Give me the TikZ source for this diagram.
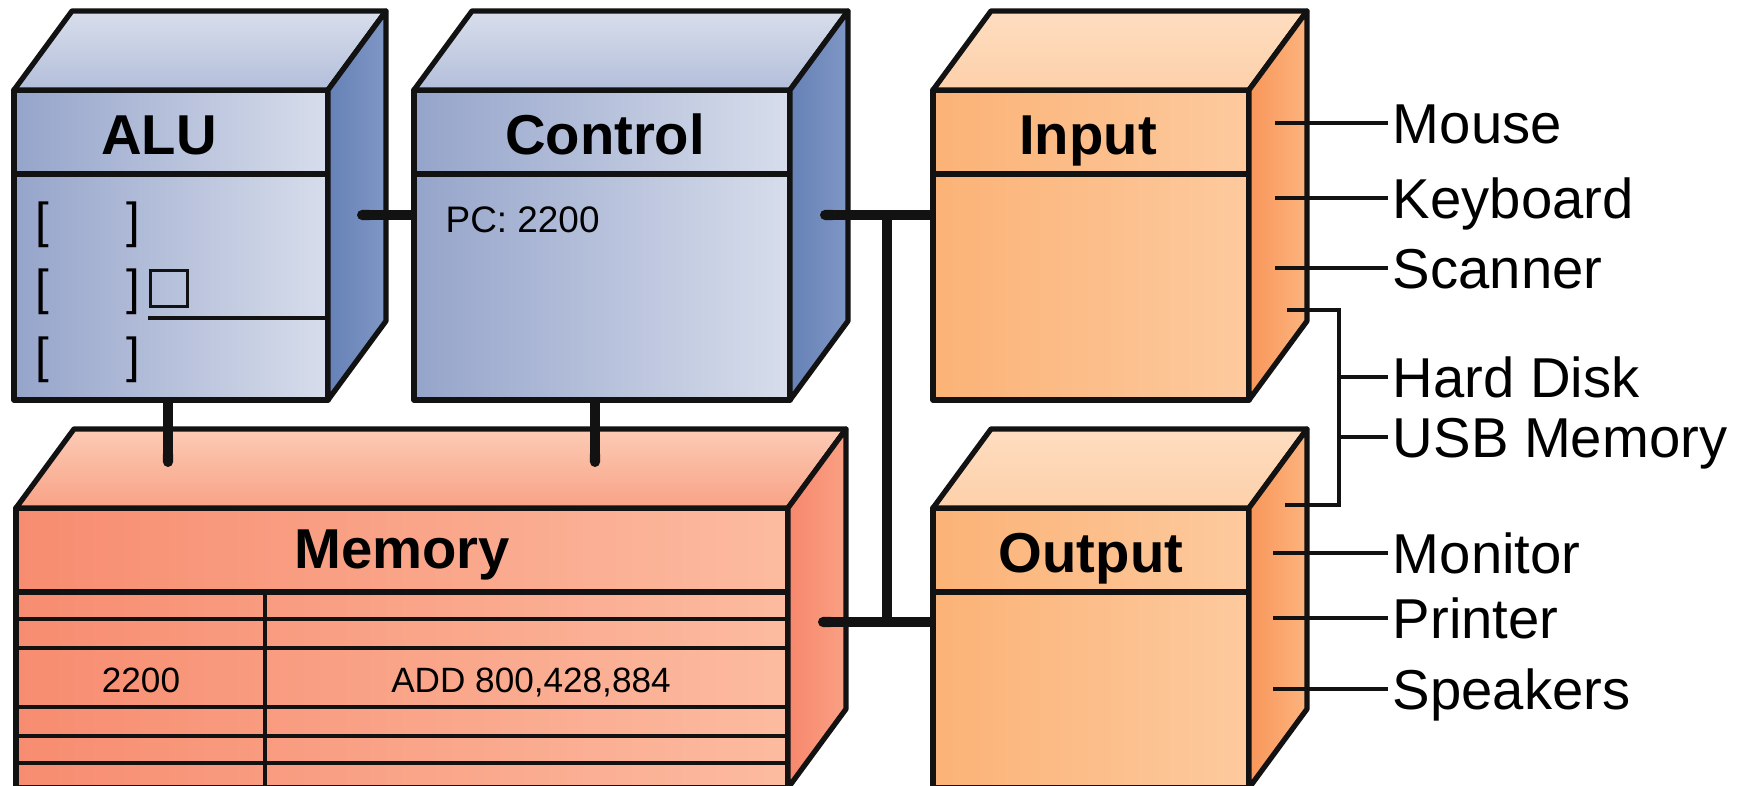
\documentclass[tikz,border=0pt]{standalone}
\usepackage{fontspec}
\setmainfont{Liberation Sans}
\usepackage{tikz}
\usetikzlibrary{calc}
\usetikzlibrary{arrows.meta}

\definecolor{blueFrontL}{HTML}{95A4CA}
\definecolor{blueFrontR}{HTML}{D7DDEB}
\definecolor{blueSideL}{HTML}{6681B6}
\definecolor{blueSideR}{HTML}{7F97C5}
\definecolor{blueTopT}{HTML}{D8DEEB}
\definecolor{blueTopB}{HTML}{B3BEDA}
\definecolor{orangeFrontL}{HTML}{FBB276}
\definecolor{orangeFrontR}{HTML}{FDCA9E}
\definecolor{orangeSideL}{HTML}{F8965A}
\definecolor{orangeSideR}{HTML}{FCB47E}
\definecolor{orangeTopT}{HTML}{FEDDC0}
\definecolor{orangeTopB}{HTML}{FDD0AA}
\definecolor{salmonFrontL}{HTML}{F78C70}
\definecolor{salmonFrontR}{HTML}{FCBBA0}
\definecolor{salmonSideL}{HTML}{F7876C}
\definecolor{salmonSideR}{HTML}{F9A084}
\definecolor{salmonTopT}{HTML}{FCCBB5}
\definecolor{salmonTopB}{HTML}{F8A286}

\tikzset{
  face/.style={draw=black!93, line width=1.5pt, line join=round},
  unit/.style={face, anchor=north west, inner sep=0pt, outer sep=0pt},
  title/.style={font=\bfseries\fontsize{16}{18}\selectfont, inner sep=0pt, text height=11.5pt, text depth=0pt},
  small/.style={font=\fontsize{10}{12}\selectfont, inner sep=0pt, text height=7.2pt, text depth=0pt},
  bracket/.style={anchor=base, inner sep=0pt, font=\fontsize{14}{16}\selectfont},
  bus/.style={draw=black!93, line width=2.9pt},
  wire/.style={draw=black!93, line width=0.9pt},
  device/.style={anchor=west, inner sep=0pt, outer xsep=1.4pt, font=\fontsize{16}{18}\selectfont, text height=11.5pt, text depth=0pt},
}

\begin{document}
\begin{tikzpicture}
  \useasboundingbox (0,0) rectangle (17.46,7.86);
  \clip (0,0) rectangle (17.46,7.86);

  % front faces
  \node[unit, left color=blueFrontL, right color=blueFrontR, minimum width=3.14cm, minimum height=3.10cm] (alu) at (0.14,6.96) {};
  \node[unit, left color=blueFrontL, right color=blueFrontR, minimum width=3.76cm, minimum height=3.10cm] (ctl) at (4.14,6.96) {};
  \node[unit, left color=orangeFrontL, right color=orangeFrontR, minimum width=3.16cm, minimum height=3.10cm] (inp) at (9.33,6.96) {};
  \node[unit, left color=salmonFrontL, right color=salmonFrontR, minimum width=7.72cm, minimum height=2.80cm] (mem) at (0.16,2.78) {};
  \node[unit, left color=orangeFrontL, right color=orangeFrontR, minimum width=3.16cm, minimum height=2.80cm] (outp) at (9.33,2.78) {};

  % top and side faces, header lines
  \foreach \n/\pal in {alu/blue, ctl/blue, inp/orange, mem/salmon, outp/orange} {
    \draw[face, top color=\pal TopT, bottom color=\pal TopB] (\n.north west) -- ++(0.58,0.79)
      -- ($(\n.north east)+(0.58,0.79)$) -- (\n.north east) -- cycle;
    \draw[face, left color=\pal SideL, right color=\pal SideR] (\n.north east) -- ++(0.58,0.79)
      -- ($(\n.south east)+(0.58,0.79)$) -- (\n.south east) -- cycle;
    \draw[face] ([yshift=-0.84cm]\n.north west) -- ([yshift=-0.84cm]\n.north east);
  }

  \node[title] (alu-t) at ([xshift=-0.12cm,yshift=-0.44cm]alu.north) {ALU};
  \node[title] (ctl-t) at ([xshift=0.03cm,yshift=-0.44cm]ctl.north) {Control};
  \node[title] (inp-t) at ([xshift=-0.03cm,yshift=-0.44cm]inp.north) {Input};
  \node[title] (mem-t) at ([yshift=-0.40cm]mem.north) {Memory};
  \node[title] (outp-t) at ([yshift=-0.44cm]outp.north) {Output};

  % ALU registers
  \node[bracket] (reg1) at (0.88,5.48) {[\hspace{22pt}]};
  \node[bracket] (reg2) at (0.88,4.81) {[\hspace{22pt}]};
  \node[bracket] (reg3) at (0.88,4.13) {[\hspace{22pt}]};
  \node[draw=black!93, line width=1pt, inner sep=0pt, minimum width=0.37cm, minimum height=0.36cm] (flag) at (1.69,4.975) {};
  \draw[face, line width=1.3pt] (1.48,4.68) -- (alu.east |- 0,4.68);

  \node[small, anchor=west, font=\fontsize{10.5}{12}\selectfont] (pc) at (4.45,5.66) {PC: 2200};

  % memory cells
  \foreach \y in {1.67,1.38,0.79,0.50,0.23}
    \draw[face, line width=1.3pt] (mem.west |- 0,\y) -- (mem.east |- 0,\y);
  \draw[face, line width=1.3pt] (2.65,1.96) -- (2.65,-0.1);
  \node[small] (addr) at (1.41,1.06) {2200};
  \node[small] (instr) at (5.31,1.06) {ADD 800,428,884};

  % bus
  \coordinate (alu-side) at (3.57,5.71);
  \coordinate (ctl-side) at (8.20,5.71);
  \coordinate (mem-side) at (8.18,1.64);
  \coordinate (spine) at (8.87,0);
  \coordinate (alu-mem) at (1.68,3.19);
  \coordinate (ctl-mem) at (5.95,3.19);
  \draw[bus, {Round Cap[]}-] (alu-side) -- (ctl.west |- alu-side);
  \draw[bus, {Round Cap[]}-] (ctl-side) -- (inp.west |- ctl-side);
  \draw[bus, {Round Cap[]}-] (mem-side) -- (outp.west |- mem-side);
  \draw[bus] (ctl-side -| spine) -- (mem-side -| spine);
  \draw[bus, -{Round Cap[]}] (alu-mem |- alu.south) -- (alu-mem);
  \draw[bus, -{Round Cap[]}] (ctl-mem |- ctl.south) -- (ctl-mem);

  % devices
  \node[device] (mouse) at (13.88,6.63) {Mouse};
  \node[device] (keyboard) at (13.88,5.88) {Keyboard};
  \node[device] (scanner) at (13.88,5.18) {Scanner};
  \node[device] (disk) at (13.88,4.09) {Hard Disk};
  \node[device] (usb) at (13.88,3.49) {USB Memory};
  \node[device] (monitor) at (13.88,2.33) {Monitor};
  \node[device] (printer) at (13.88,1.68) {Printer};
  \node[device] (speakers) at (13.88,0.97) {Speakers};

  \foreach \d in {mouse, keyboard, scanner}
    \draw[wire] (12.75,0 |- \d.west) -- (\d.west);
  \foreach \d in {monitor, printer, speakers}
    \draw[wire] (12.73,0 |- \d.west) -- (\d.west);

  \coordinate (disk-in) at (12.87,4.76);
  \coordinate (disk-out) at (12.85,2.81);
  \coordinate (rail) at (13.39,0);
  \draw[wire] (disk-in) -| (rail |- disk-out) -- (disk-out);
  \draw[wire] (rail |- disk.west) -- (disk.west);
  \draw[wire] (rail |- usb.west) -- (usb.west);

\end{tikzpicture}
\end{document}
